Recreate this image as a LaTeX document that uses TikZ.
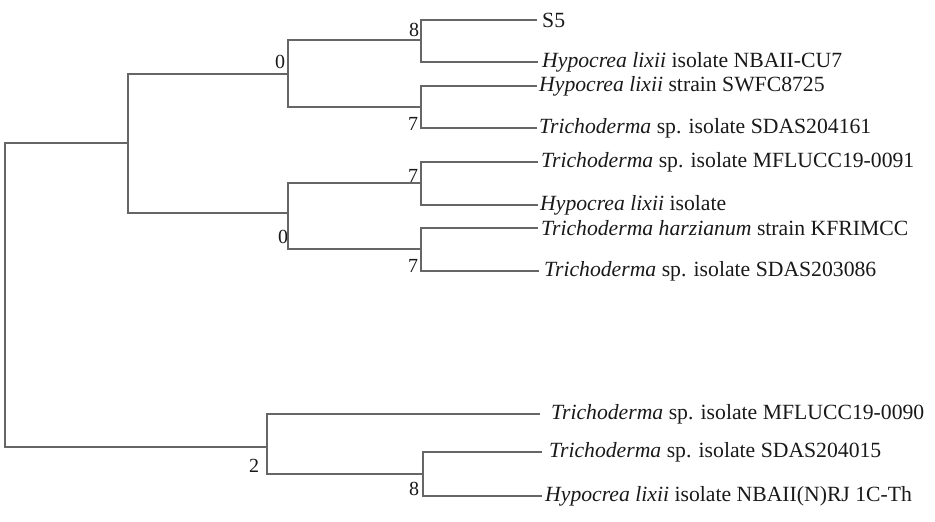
\documentclass[tikz,border=0pt]{standalone}
\usepackage{fontspec}
\setmainfont{Liberation Serif}
\usepackage{tikz}
\usepackage{color}
\definecolor{branchcolor}{rgb}{0.40, 0.40, 0.40}
\definecolor{labelcolor}{rgb}{0.10, 0.10, 0.10}
\tikzstyle{leaf} = [anchor=west,inner sep=2pt,text=labelcolor,font=\fontsize{21.7}{26}\selectfont]
\tikzstyle{boot} = [inner sep=0pt,text=labelcolor,font=\fontsize{20}{24}\selectfont]
\tikzstyle{branch} = [draw=branchcolor,line width=1.5pt]

\begin{document}
\begin{tikzpicture}[x=1pt,y=-1pt]
		\useasboundingbox (0,0) rectangle (935,522);
		% inner nodes of the tree
		\coordinate (root) at (5,295);
		\coordinate (top) at (128,143);
		\coordinate (a) at (288,74);
		\coordinate (a1) at (421,40);
		\coordinate (a2) at (421,107);
		\coordinate (b) at (288,213);
		\coordinate (b1) at (421,183);
		\coordinate (b2) at (421,249);
		\coordinate (c) at (267,447);
		\coordinate (c2) at (423,474);
		
		% leaves
		\node [leaf,inner xsep=5pt](s5) at (537,20){S5};
		\node [leaf,inner xsep=4pt](cu7) at (538,62){\textit{Hypocrea lixii} isolate NBAII-CU7};
		\node [leaf](swfc) at (537,86){\textit{Hypocrea lixii} strain SWFC8725};
		\node [leaf](sdas161) at (537,128){\textit{Trichoderma} sp. isolate SDAS204161};
		\node [leaf,inner xsep=3pt](mf91) at (538,162){\textit{Trichoderma} sp. isolate MFLUCC19-0091};
		\node [leaf](hlx) at (538,205){\textit{Hypocrea lixii} isolate};
		\node [leaf,inner xsep=3pt](kfri) at (538,228){\textit{Trichoderma harzianum} strain KFRIMCC};
		\node [leaf,inner xsep=5pt](sdas086) at (539,271){\textit{Trichoderma} sp. isolate SDAS203086};
		\node [leaf,inner xsep=11pt](mf90) at (540,414){\textit{Trichoderma} sp. isolate MFLUCC19-0090};
		\node [leaf,inner xsep=7pt](sdas015) at (542,452){\textit{Trichoderma} sp. isolate SDAS204015};
		\node [leaf,inner xsep=3pt](rj1c) at (542,496){\textit{Hypocrea lixii} isolate NBAII(N)RJ 1C-Th};
		
		% bootstrap values
		\node [boot](ba) at (280,62){0};
		\node [boot](ba1) at (414,30){8};
		\node [boot](ba2) at (413,124){7};
		\node [boot](bb) at (283,237){0};
		\node [boot](bb1) at (413,176){7};
		\node [boot](bb2) at (413,266){7};
		\node [boot](bc) at (254,466){2};
		\node [boot](bc2) at (414,489){8};
		
		\draw[branch](root)|-(top);
		\draw[branch](root)|-(c);
		\draw[branch](top)|-(a);
		\draw[branch](top)|-(b);
		\draw[branch](a)|-(a1);
		\draw[branch](a)|-(a2);
		\draw[branch](a1)|-(s5.west);
		\draw[branch](a1)|-(cu7.west);
		\draw[branch](a2)|-(swfc.west);
		\draw[branch](a2)|-(sdas161.west);
		\draw[branch](b)|-(b1);
		\draw[branch](b)|-(b2);
		\draw[branch](b1)|-(mf91.west);
		\draw[branch](b1)|-(hlx.west);
		\draw[branch](b2)|-(kfri.west);
		\draw[branch](b2)|-(sdas086.west);
		\draw[branch](c)|-(mf90.west);
		\draw[branch](c)|-(c2);
		\draw[branch](c2)|-(sdas015.west);
		\draw[branch](c2)|-(rj1c.west);
		\end{tikzpicture}
\end{document}
